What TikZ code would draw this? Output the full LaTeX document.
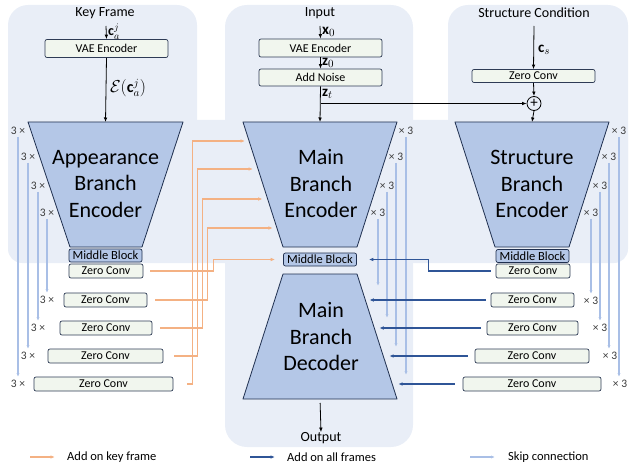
\documentclass[tikz,border=0pt]{standalone}
\usepackage{fontspec}
\setmainfont{Carlito}
\usetikzlibrary{arrows.meta,calc}

\definecolor{panel}{HTML}{E9EEF7}
\definecolor{trapfill}{HTML}{B4C7E7}
\definecolor{trapline}{HTML}{1F2F4F}
\definecolor{boxfill}{HTML}{F1F6EE}
\definecolor{boxline}{HTML}{2E3B55}
\definecolor{keyc}{HTML}{F4B183}
\definecolor{allc}{HTML}{2F5597}
\definecolor{skipc}{HTML}{A9BFE6}
\definecolor{multc}{HTML}{3A3A3A}

\tikzset{
  tip/.style={-{Latex[length=4.5pt,width=3.6pt]}},
  arr/.style={draw=black, line width=0.8pt, tip},
  keyarr/.style={draw=keyc, line width=1.1pt, tip},
  allarr/.style={draw=allc, line width=1.1pt, tip},
  skiparr/.style={draw=skipc, line width=1.1pt, -{Latex[length=4pt,width=3.2pt]}},
  title/.style={inner sep=0pt, font=\fontsize{14}{16}\selectfont},
  box/.style={draw=boxline, fill=boxfill, rounded corners=2pt, line width=0.7pt,
    inner sep=0pt, font=\fontsize{12}{13}\selectfont},
  zc/.style={box, minimum height=14pt},
  mid/.style={draw=trapline, fill=trapfill, rounded corners=2pt, line width=0.7pt,
    inner sep=0pt, minimum width=73pt, minimum height=13pt,
    font=\fontsize{12.5}{13}\selectfont},
  trap/.style={draw=trapline, fill=trapfill, line width=0.8pt, line join=round},
  bigtext/.style={align=center, inner sep=0pt, font=\fontsize{22}{26.5}\selectfont},
  mult/.style={inner sep=1pt, text=multc, font=\fontsize{11.5}{12}\selectfont},
  lab/.style={inner sep=0pt, font=\fontsize{15}{16}\selectfont},
  legtext/.style={inner sep=0pt, anchor=west, font=\fontsize{12.5}{14}\selectfont},
}

\begin{document}
\begin{tikzpicture}[x=1pt,y=-1pt]
\useasboundingbox (0,0) rectangle (631,465);

% panels behind the three branches and the shared band
\fill[panel, rounded corners=20pt] (8,5) rectangle (197,200);
\fill[panel, rounded corners=22pt] (225,5) rectangle (413,447);
\fill[panel, rounded corners=20pt] (448,5) rectangle (628,200);
\fill[panel, rounded corners=14pt] (8,120) rectangle (628,263);

% titles
\node[title] (tKey) at (105,13) {Key Frame};
\node[title] (tIn) at (320,13) {Input};
\node[title] (tStr) at (534,13) {Structure Condition};
\node[title] (tOut) at (321,438) {Output};

% top boxes
\node[box, minimum width=123pt, minimum height=18pt] (kvae) at (106.5,48.5) {VAE Encoder};
\node[box, minimum width=123pt, minimum height=18pt] (mvae) at (320.5,48) {VAE Encoder};
\node[box, minimum width=123pt, minimum height=17pt] (noise) at (320.5,77.5) {Add Noise};
\node[box, minimum width=123pt, minimum height=13pt] (szc) at (533.5,76) {Zero Conv};
\node[draw, circle, line width=0.8pt, minimum size=14pt, inner sep=0pt,
      font=\fontsize{15}{15}\selectfont] (plus) at (534,103.5) {+};

% trapezoid corners
\coordinate (aTL) at (28,122);  \coordinate (aTR) at (183,122);
\coordinate (aBR) at (142,247); \coordinate (aBL) at (70,247);
\coordinate (mTL) at (243,122); \coordinate (mTR) at (397,122);
\coordinate (mBR) at (357,247); \coordinate (mBL) at (283,247);
\coordinate (sTL) at (455,122); \coordinate (sTR) at (609,122);
\coordinate (sBR) at (569,247); \coordinate (sBL) at (495,247);
\coordinate (dTL) at (283,274); \coordinate (dTR) at (357,274);
\coordinate (dBR) at (397,399); \coordinate (dBL) at (243,399);

\draw[trap] (aTL) -- (aTR) -- (aBR) -- (aBL) -- cycle;
\draw[trap] (mTL) -- (mTR) -- (mBR) -- (mBL) -- cycle;
\draw[trap] (sTL) -- (sTR) -- (sBR) -- (sBL) -- cycle;
\draw[trap] (dTL) -- (dTR) -- (dBR) -- (dBL) -- cycle;

\node[bigtext] (aTxt) at (105.5,184) {Appearance\\Branch\\Encoder};
\node[bigtext] (mTxt) at (321,184) {Main\\Branch\\Encoder};
\node[bigtext] (sTxt) at (532,184) {Structure\\Branch\\Encoder};
\node[bigtext] (dTxt) at (321,337) {Main\\Branch\\Decoder};

\coordinate (aTop) at ($(aTL)!0.5!(aTR)$);
\coordinate (mTop) at ($(mTL)!0.5!(mTR)$);
\coordinate (sTop) at ($(sTL)!0.5!(sTR)$);
\coordinate (dBot) at ($(dBL)!0.5!(dBR)$);

% middle blocks
\node[mid] (amb) at (105.5,255.5) {Middle Block};
\node[mid] (mmb) at (320,259.5) {Middle Block};
\node[mid] (smb) at (532.5,256) {Middle Block};

% appearance zero convs
\node[zc, minimum width=74pt]  (az1) at (106,271) {Zero Conv};
\node[zc, minimum width=83pt]  (az2) at (105.5,300) {Zero Conv};
\node[zc, minimum width=92pt]  (az3) at (106,328) {Zero Conv};
\node[zc, minimum width=115pt] (az4) at (105.5,356) {Zero Conv};
\node[zc, minimum width=139pt] (az5) at (103.5,384) {Zero Conv};

% structure zero convs
\node[zc, minimum width=74pt]  (sz1) at (533,271) {Zero Conv};
\node[zc, minimum width=83pt]  (sz2) at (532.5,300) {Zero Conv};
\node[zc, minimum width=91pt]  (sz3) at (532.5,328) {Zero Conv};
\node[zc, minimum width=114pt] (sz4) at (532,356) {Zero Conv};
\node[zc, minimum width=138pt] (sz5) at (532,384) {Zero Conv};

% input arrows and latent labels
\coordinate (kin) at (106,26);
\coordinate (min) at (320,26);
\coordinate (sin) at (534,26);
\draw[arr] (kin) -- (kvae.north);
\node[lab, anchor=west, font=\fontsize{14}{15}\selectfont] (lca) at (108,31.5) {$\mathbf{c}_a^j$};
\draw[arr] (kvae.south) -- (aTop);
\node[lab, font=\fontsize{16}{17}\selectfont] (lenc) at (128,88) {$\mathcal{E}(\mathbf{c}_a^j)$};
\draw[arr] (min) -- (mvae.north);
\node[lab, anchor=west] (lx0) at (322,32) {$\mathbf{x}_0$};
\draw[arr] (mvae.south) -- (noise.north);
\node[lab, anchor=west] (lz0) at (322,63) {$\mathbf{z}_0$};
\draw[arr] (noise.south) -- (mTop);
\node[lab, anchor=west] (lzt) at (322,94) {$\mathbf{z}_t$};
\draw[arr] (noise.south |- plus.west) -- (plus.west);
\draw[arr] (sin) -- (szc.north);
\node[lab, anchor=west] (lcs) at (538,50) {$\mathbf{c}_s$};
\draw[arr] (szc.south) -- (plus.north);
\draw[arr] (plus.south) -- (sTop);
\draw[arr, shorten <=4pt] (dBot) -- (tOut.north);

% repeat counts beside the encoders
\node[mult] (al1) at (18,131) {3 ×};
\node[mult] (al2) at (28,157) {3 ×};
\node[mult] (al3) at (38,186) {3 ×};
\node[mult] (al4) at (47,213) {3 ×};
\node[mult] (ab1) at (47,300) {3 ×};
\node[mult] (ab2) at (38,328) {3 ×};
\node[mult] (ab3) at (28,356) {3 ×};
\node[mult] (ab4) at (18,384) {3 ×};

\node[mult] (ml1) at (406,131) {× 3};
\node[mult] (ml2) at (396,157) {× 3};
\node[mult] (ml3) at (387,186) {× 3};
\node[mult] (ml4) at (378,213) {× 3};

\node[mult] (sl1) at (619,131) {× 3};
\node[mult] (sl2) at (609,157) {× 3};
\node[mult] (sl3) at (600,186) {× 3};
\node[mult] (sl4) at (591,213) {× 3};
\node[mult] (sb1) at (591,301) {× 3};
\node[mult] (sb2) at (600,328) {× 3};
\node[mult] (sb3) at (610,356) {× 3};
\node[mult] (sb4) at (620,384) {× 3};

% skip connections
\draw[skiparr, shorten <=1pt, shorten >=2pt] (al1.south) -- (al1.south |- ab4.north);
\draw[skiparr, shorten <=1pt, shorten >=2pt] (al2.south) -- (al2.south |- ab3.north);
\draw[skiparr, shorten <=1pt, shorten >=2pt] (al3.south) -- (al3.south |- ab2.north);
\draw[skiparr, shorten <=1pt, shorten >=2pt] (al4.south) -- (al4.south |- ab1.north);

\coordinate (mk1) at (406,375);
\coordinate (mk2) at (396,347);
\coordinate (mk3) at (387,318);
\coordinate (mk4) at (378,286);
\draw[skiparr, shorten <=1pt] (ml1.south) -- (mk1);
\draw[skiparr, shorten <=1pt] (ml2.south) -- (mk2);
\draw[skiparr, shorten <=1pt] (ml3.south) -- (mk3);
\draw[skiparr, shorten <=1pt] (ml4.south) -- (mk4);

\draw[skiparr, shorten <=1pt, shorten >=2pt] (sl1.south) -- (sl1.south |- sb4.north);
\draw[skiparr, shorten <=1pt, shorten >=2pt] (sl2.south) -- (sl2.south |- sb3.north);
\draw[skiparr, shorten <=1pt, shorten >=2pt] (sl3.south) -- (sl3.south |- sb2.north);
\draw[skiparr, shorten <=1pt, shorten >=2pt] (sl4.south) -- (sl4.south |- sb1.north);

% key-frame injections into the main encoder
\coordinate (e1) at ($(mTL)!0.152!(mBL)$);
\coordinate (e2) at ($(mTL)!0.376!(mBL)$);
\coordinate (e3) at ($(mTL)!0.616!(mBL)$);
\coordinate (e4) at ($(mTL)!0.848!(mBL)$);
\draw[keyarr, shorten >=8pt] ([xshift=7pt]az1.east) -| ([xshift=-70pt]mmb.west) -- (mmb.west);
\draw[keyarr, shorten >=4pt] ([xshift=8pt]az2.east) -| ([xshift=-69pt]e4) -- (e4);
\draw[keyarr, shorten >=5pt] ([xshift=8pt]az3.east) -| ([xshift=-65.5pt]e3) -- (e3);
\draw[keyarr, shorten >=5pt] ([xshift=11pt]az4.east) -| ([xshift=-60.5pt]e2) -- (e2);
\draw[keyarr, shorten >=4pt] ([xshift=14pt]az5.east) -| ([xshift=-57pt]e1) -- (e1);

% structure injections into the main branch
\coordinate (d1) at ($(dTR)!0.208!(dBR)$);
\coordinate (d2) at ($(dTR)!0.432!(dBR)$);
\coordinate (d3) at ($(dTR)!0.656!(dBR)$);
\coordinate (d4) at ($(dTR)!0.88!(dBR)$);
\draw[allarr, shorten >=12pt] ([xshift=-5pt]sz1.west) -| ([xshift=72pt]mmb.east) -- (mmb.east);
\draw[allarr, shorten >=4pt] ([xshift=-5pt]sz2.west) -- (d1 |- sz2.west);
\draw[allarr, shorten >=5pt] ([xshift=-6pt]sz3.west) -- (d2 |- sz3.west);
\draw[allarr, shorten >=6pt] ([xshift=-7pt]sz4.west) -- (d3 |- sz4.west);
\draw[allarr, shorten >=6pt] ([xshift=-8pt]sz5.west) -- (d4 |- sz5.west);

% legend
\coordinate (g1a) at (30,457);  \coordinate (g1b) at (55,457);
\coordinate (g2a) at (250,457); \coordinate (g2b) at (275,457);
\coordinate (g3a) at (470,457); \coordinate (g3b) at (495,457);
\draw[keyarr] (g1a) -- (g1b);
\draw[allarr] (g2a) -- (g2b);
\draw[skiparr] (g3a) -- (g3b);
\node[legtext] (g1) at (67,457) {Add on key frame};
\node[legtext] (g2) at (287,457) {Add on all frames};
\node[legtext] (g3) at (508,457) {Skip connection};
\end{tikzpicture}
\end{document}
